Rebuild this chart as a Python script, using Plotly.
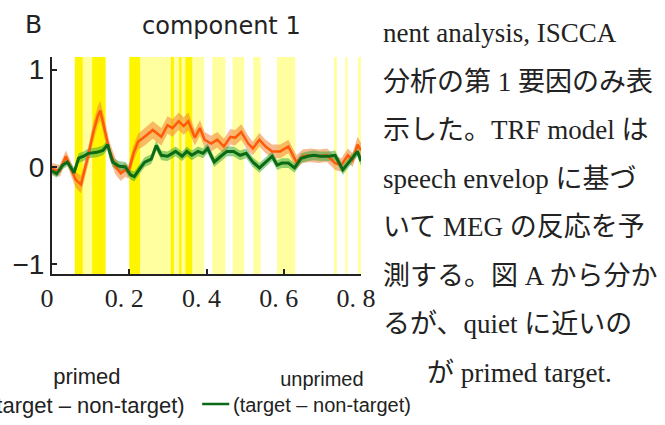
import plotly.graph_objects as go

# ---------------- data ----------------
# primed (target - non-target), orange
t_primed = [0.0, 0.02, 0.036, 0.048, 0.061, 0.075, 0.094, 0.107, 0.119, 0.125, 0.136, 0.148,
            0.165, 0.178, 0.19, 0.198, 0.211, 0.223, 0.24, 0.261, 0.283, 0.299, 0.312, 0.328,
            0.341, 0.353, 0.37, 0.383, 0.395, 0.412, 0.428, 0.445, 0.462, 0.474, 0.49, 0.508,
            0.52, 0.537, 0.553, 0.57, 0.591, 0.612, 0.633, 0.649, 0.67, 0.691, 0.712, 0.733,
            0.749, 0.766, 0.778, 0.791, 0.8]
v_primed = [-0.02, -0.04, 0.11, 0.0, -0.13, -0.18, 0.12, 0.36, 0.53, 0.58, 0.40, 0.18,
            0.0, -0.065, -0.03, -0.05, 0.14, 0.26, 0.31, 0.38, 0.31, 0.43, 0.40, 0.47,
            0.42, 0.47, 0.30, 0.40, 0.28, 0.24, 0.28, 0.21, 0.31, 0.30, 0.36, 0.24,
            0.19, 0.28, 0.21, 0.16, 0.16, 0.21, 0.05, 0.11, 0.12, 0.11, 0.12, 0.04,
            0.02, 0.12, 0.07, 0.23, 0.17]
sem_primed = [0.06, 0.06, 0.06, 0.07, 0.08, 0.09, 0.09, 0.10, 0.10, 0.10, 0.10, 0.09,
              0.08, 0.08, 0.07, 0.07, 0.08, 0.08, 0.09, 0.09, 0.09, 0.09, 0.09, 0.09,
              0.09, 0.09, 0.08, 0.08, 0.08, 0.08, 0.08, 0.08, 0.08, 0.08, 0.08, 0.08,
              0.07, 0.07, 0.07, 0.07, 0.07, 0.07, 0.07, 0.07, 0.07, 0.07, 0.07, 0.07,
              0.07, 0.07, 0.07, 0.08, 0.08]

# unprimed (target - non-target), green
t_unprimed = [0.0, 0.012, 0.028, 0.04, 0.057, 0.069, 0.082, 0.094, 0.116, 0.132, 0.144, 0.157,
              0.172, 0.19, 0.203, 0.213, 0.227, 0.24, 0.257, 0.27, 0.283, 0.299, 0.32, 0.337,
              0.349, 0.362, 0.378, 0.391, 0.403, 0.42, 0.437, 0.453, 0.47, 0.487, 0.503, 0.52,
              0.537, 0.553, 0.57, 0.583, 0.595, 0.612, 0.628, 0.645, 0.662, 0.678, 0.695, 0.716,
              0.733, 0.753, 0.77, 0.791, 0.8]
v_unprimed = [-0.04, -0.07, 0.02, 0.05, -0.06, 0.09, 0.11, 0.14, 0.15, 0.17, 0.23, 0.05,
              0.01, 0.0, -0.08, -0.10, -0.02, 0.05, 0.08, 0.22, 0.12, 0.11, 0.16, 0.11,
              0.16, 0.12, 0.16, 0.14, 0.19, 0.05, 0.11, 0.16, 0.16, 0.12, 0.14, 0.05,
              -0.01, 0.05, 0.11, 0.02, 0.04, 0.04, -0.01, 0.09, 0.11, 0.12, 0.11, 0.11,
              0.12, -0.03, 0.05, 0.16, 0.06]
sem_unprimed = [0.04, 0.04, 0.04, 0.04, 0.05, 0.05, 0.05, 0.05, 0.05, 0.05, 0.05, 0.05,
                0.05, 0.05, 0.05, 0.05, 0.05, 0.05, 0.05, 0.05, 0.05, 0.05, 0.05, 0.05,
                0.05, 0.05, 0.05, 0.05, 0.05, 0.05, 0.05, 0.05, 0.05, 0.05, 0.05, 0.05,
                0.05, 0.05, 0.05, 0.05, 0.05, 0.05, 0.05, 0.05, 0.05, 0.05, 0.05, 0.05,
                0.05, 0.05, 0.05, 0.05, 0.05]

# significance bands (time windows)
band_start = [0.059, 0.080, 0.104, 0.200, 0.229, 0.3075, 0.316, 0.329, 0.336, 0.345, 0.364,
              0.415, 0.4675, 0.521, 0.5825, 0.730, 0.759, 0.7925]
band_end   = [0.080, 0.104, 0.139, 0.229, 0.3075, 0.316, 0.329, 0.336, 0.345, 0.364, 0.394,
              0.449, 0.4975, 0.540, 0.630, 0.7375, 0.765, 0.800]
band_level = ["strong", "weak", "strong", "strong", "weak", "strong", "weak", "strong", "weak",
              "strong", "weak", "weak", "weak", "weak", "weak", "weak", "weak", "weak"]

x_ticks = [0, 0.2, 0.4, 0.6, 0.8]
x_ticktext = ["0", "0. 2", "0. 4", "0. 6", "0. 8"]
y_ticks = [-1, 0, 1]
y_ticktext = ["\u22121", "0", "1"]

jp_lines = [
    "nent analysis, ISCCA",
    "分析の第 1 要因のみ表",
    "示した。TRF model は",
    "speech envelop に基づ",
    "いて MEG の反応を予",
    "測する。図 A から分か",
    "るが、quiet に近いの",
    "が primed target.",
]

# ---------------- layout geometry ----------------
W, H = 665, 425
L, R, T, B = 42, 304, 57, 151
PW, PH = W - L - R, H - T - B


def px(xp):
    return (xp - L) / PW


def py(yp):
    return (H - B - yp) / PH


ORANGE = "#ff5a0a"
ORANGE_FILL = "rgba(240,130,50,0.55)"
GREEN = "#0b6a16"
GREEN_FILL = "rgba(60,170,60,0.55)"
STRONG_Y = "#fff500"
WEAK_Y = "#ffffa0"

fig = go.Figure()


def add_band(t, v, s, fill_color):
    upper = [a + b for a, b in zip(v, s)]
    lower = [a - b for a, b in zip(v, s)]
    fig.add_trace(go.Scatter(x=t + t[::-1], y=upper + lower[::-1], fill="toself",
                             fillcolor=fill_color, line=dict(width=0), hoverinfo="skip",
                             showlegend=False))


add_band(t_primed, v_primed, sem_primed, ORANGE_FILL)
add_band(t_unprimed, v_unprimed, sem_unprimed, GREEN_FILL)
fig.add_trace(go.Scatter(x=t_primed, y=v_primed, mode="lines",
                         line=dict(color=ORANGE, width=2.5), showlegend=False))
fig.add_trace(go.Scatter(x=t_unprimed, y=v_unprimed, mode="lines",
                         line=dict(color=GREEN, width=3), showlegend=False))

shapes = []
for s0, s1, lvl in zip(band_start, band_end, band_level):
    shapes.append(dict(type="rect", xref="x", yref="paper", x0=s0, x1=s1, y0=0, y1=1,
                       fillcolor=STRONG_Y if lvl == "strong" else WEAK_Y,
                       line=dict(width=0), layer="below"))

# legend line sample (green)
shapes.append(dict(type="line", xref="paper", yref="paper", x0=px(197), x1=px(225),
                   y0=py(404), y1=py(404), line=dict(color=GREEN, width=2.5)))

annotations = []
annotations.append(dict(text="B", xref="paper", yref="paper", x=px(12), y=py(25),
                        xanchor="left", yanchor="middle", showarrow=False,
                        font=dict(family="DejaVu Sans", size=25, color="#222")))
annotations.append(dict(text="component 1", xref="paper", yref="paper", x=px(217), y=py(26),
                        xanchor="center", yanchor="middle", showarrow=False,
                        font=dict(family="DejaVu Sans", size=24, color="#222")))

annotations.append(dict(text="primed<br>(target \u2013 non-target)", xref="paper", yref="paper",
                        x=px(181), y=py(391), xanchor="right", yanchor="middle", align="center",
                        showarrow=False,
                        font=dict(family="Liberation Sans", size=22, color="#222")))
annotations.append(dict(text="unprimed<br>(target \u2013 non-target)", xref="paper", yref="paper",
                        x=px(227), y=py(392), xanchor="left", yanchor="middle", align="center",
                        showarrow=False,
                        font=dict(family="Liberation Sans", size=20, color="#222")))

jp_font = dict(family="Liberation Serif, Noto Sans CJK JP", size=27, color="#222")
for i, line in enumerate(jp_lines):
    xl = 427 if i == len(jp_lines) - 1 else 382
    annotations.append(dict(text=line, xref="paper", yref="paper", x=px(xl),
                            y=py(33 + 48.5 * i), xanchor="left", yanchor="middle",
                            showarrow=False, font=jp_font))

fig.update_layout(
    width=W, height=H,
    margin=dict(l=L, r=R, t=T, b=B, pad=0),
    paper_bgcolor="white", plot_bgcolor="white",
    showlegend=False,
    shapes=shapes, annotations=annotations,
    xaxis=dict(range=[0, 0.8], tickvals=x_ticks, ticktext=x_ticktext, ticks="inside",
               ticklen=5, tickwidth=1.5, tickcolor="#222", showline=True, linecolor="#222",
               linewidth=2, showgrid=False, zeroline=False, ticklabelshift=-5,
               tickfont=dict(family="Liberation Serif", size=26, color="#222")),
    yaxis=dict(range=[-1.1, 1.13], tickvals=y_ticks, ticktext=y_ticktext, ticks="inside",
               ticklen=5, tickwidth=1.5, tickcolor="#222", showline=True, linecolor="#222",
               linewidth=2, showgrid=False, zeroline=False,
               tickfont=dict(family="Liberation Sans", size=28, color="#222")),
)

fig.write_html("out.html")
